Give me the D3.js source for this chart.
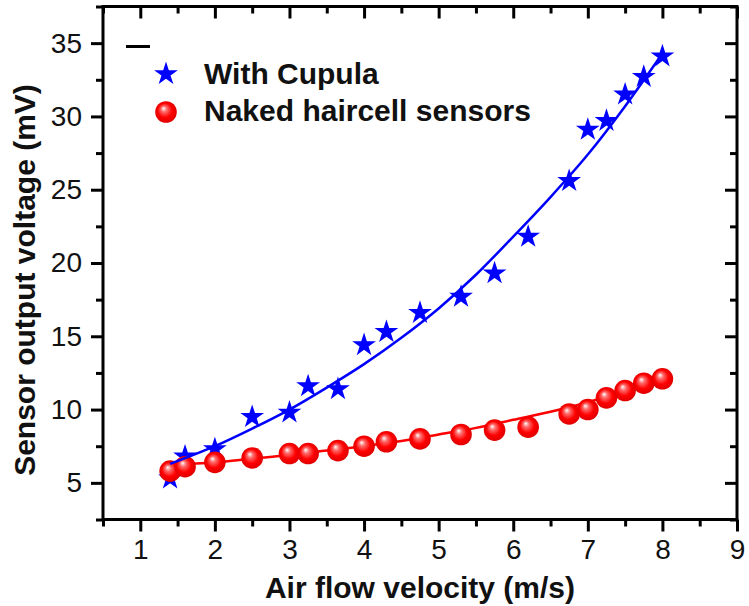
<!DOCTYPE html>
<html><head><meta charset="utf-8">
<script src="https://cdn.jsdelivr.net/npm/d3@7"></script>
<style>body{margin:0;background:#fff;} svg{display:block;}</style>
</head><body><svg id="c" width="749" height="606"></svg>
<script>
// Data
const velocity = [1.4,1.6,2.0,2.5,3.0,3.25,3.65,4.0,4.3,4.75,5.3,5.75,6.2,6.75,7.0,7.25,7.5,7.75,8.0];
const cupula   = [5.3,6.8,7.3,9.5,9.8,11.6,11.4,14.4,15.3,16.6,17.7,19.3,21.8,25.6,29.1,29.7,31.5,32.7,34.1];
const naked    = [5.8,6.1,6.4,6.7,7.0,7.0,7.2,7.5,7.8,8.0,8.3,8.6,8.8,9.7,10.0,10.8,11.3,11.8,12.1];
// Fitted curves
const fitX      = [1.4,2,2.5,3,3.5,4,4.5,5,5.5,6,6.5,7,7.5,8];
const cupulaFit = [6.3,7.5,8.7,10.0,11.5,13.1,14.9,16.9,19.2,21.8,24.5,27.4,30.7,34.3];
const nakedFit  = [6.2,6.4,6.65,6.9,7.2,7.5,7.85,8.3,8.75,9.3,9.85,10.5,11.3,12.2];
const xTicks = [1,2,3,4,5,6,7,8,9];
const xMinor = [0.5,1.5,2.5,3.5,4.5,5.5,6.5,7.5,8.5];
const yTicks = [5,10,15,20,25,30,35];
const yMinor = [2.5,7.5,12.5,17.5,22.5,27.5,32.5,37.5];
const seriesNames = ["With Cupula","Naked haircell sensors"];
const xTitle = "Air flow velocity (m/s)";
const yTitle = "Sensor output voltage (mV)";

const W = 749, H = 606;
const L = 103, R = 737, T = 6.5, B = 519.5;
const FONT = "'Liberation Sans', Arial, Helvetica, sans-serif";
const svg = d3.select("#c");
svg.append("rect").attr("width",W).attr("height",H).attr("fill","#fff");

const x = d3.scaleLinear().domain([0.5,9]).range([L,R]);
const y = d3.scaleLinear().domain([2.5,37.5]).range([B,T]);

const defs = svg.append("defs");
const grad = defs.append("radialGradient").attr("id","ball")
  .attr("cx","50%").attr("cy","50%").attr("r","55%")
  .attr("fx","38%").attr("fy","32%");
grad.append("stop").attr("offset","0%").attr("stop-color","#ffffff");
grad.append("stop").attr("offset","25%").attr("stop-color","#ff6a6a");
grad.append("stop").attr("offset","60%").attr("stop-color","#ff0000");
grad.append("stop").attr("offset","100%").attr("stop-color","#d80000");

// axes
function styleAxis(g){
  g.selectAll(".domain").remove();
  g.selectAll(".tick line").attr("stroke","#000").attr("stroke-width",3);
  g.selectAll("text").attr("font-family",FONT).attr("font-size",28).attr("fill","#111");
}
const gx = svg.append("g").attr("transform",`translate(0,${B})`)
  .call(d3.axisBottom(x).tickValues(xTicks).tickSize(12).tickPadding(8).tickFormat(d3.format("d")));
styleAxis(gx);
const gxm = svg.append("g").attr("transform",`translate(0,${B})`)
  .call(d3.axisBottom(x).tickValues(xMinor).tickSize(7).tickFormat(""));
styleAxis(gxm);
const gy = svg.append("g").attr("transform",`translate(${L},0)`)
  .call(d3.axisLeft(y).tickValues(yTicks).tickSize(12).tickPadding(9).tickFormat(d3.format("d")));
styleAxis(gy);
const gym = svg.append("g").attr("transform",`translate(${L},0)`)
  .call(d3.axisLeft(y).tickValues(yMinor).tickSize(7).tickFormat(""));
styleAxis(gym);
// top and right (inward)
const gt = svg.append("g").attr("transform",`translate(0,${T})`)
  .call(d3.axisBottom(x).tickValues(xTicks).tickSize(12).tickFormat(""));
styleAxis(gt);
const gtm = svg.append("g").attr("transform",`translate(0,${T})`)
  .call(d3.axisBottom(x).tickValues(xMinor).tickSize(7).tickFormat(""));
styleAxis(gtm);
const gr = svg.append("g").attr("transform",`translate(${R},0)`)
  .call(d3.axisLeft(y).tickValues(yTicks).tickSize(12).tickFormat(""));
styleAxis(gr);
const grm = svg.append("g").attr("transform",`translate(${R},0)`)
  .call(d3.axisLeft(y).tickValues(yMinor).tickSize(7).tickFormat(""));
styleAxis(grm);

svg.append("rect").attr("x",L).attr("y",T).attr("width",R-L).attr("height",B-T)
  .attr("fill","none").attr("stroke","#000").attr("stroke-width",3);

// titles
svg.append("text").attr("x",(L+R)/2).attr("y",598).attr("text-anchor","middle")
  .attr("font-family",FONT).attr("font-weight","bold").attr("font-size",30).attr("fill","#111").text(xTitle);
svg.append("text").attr("transform",`translate(35,280) rotate(-90)`).attr("text-anchor","middle")
  .attr("font-family",FONT).attr("font-weight","bold").attr("font-size",30).attr("fill","#111").text(yTitle);

const line = d3.line().curve(d3.curveMonotoneX);
const plot = svg.append("g");
plot.append("path").attr("d", line(fitX.map((v,i)=>[x(v),y(nakedFit[i])])))
  .attr("fill","none").attr("stroke","#ff0000").attr("stroke-width",2.5);

const star = d3.symbol().type(d3.symbolStar).size(175);
plot.selectAll(".star").data(velocity).join("path").attr("class","star")
  .attr("d",star).attr("fill","#0000ff")
  .attr("transform",(d,i)=>`translate(${x(d)},${y(cupula[i])})`);
plot.selectAll(".ball").data(velocity).join("circle").attr("class","ball")
  .attr("cx",d=>x(d)).attr("cy",(d,i)=>y(naked[i])).attr("r",10.8).attr("fill","url(#ball)");
plot.append("path").attr("d", line(fitX.map((v,i)=>[x(v),y(cupulaFit[i])])))
  .attr("fill","none").attr("stroke","#0000ff").attr("stroke-width",2.5);

// legend
const lg = svg.append("g");
lg.append("line").attr("x1",126).attr("x2",150).attr("y1",46.5).attr("y2",46.5).attr("stroke","#000").attr("stroke-width",3);
lg.append("path").attr("d",star).attr("fill","#0000ff").attr("transform","translate(166,74)");
lg.append("circle").attr("cx",166).attr("cy",112).attr("r",10.8).attr("fill","url(#ball)");
lg.selectAll(".lt").data(seriesNames).join("text").attr("class","lt")
  .attr("x",204).attr("y",(d,i)=>84+i*37)
  .attr("font-family",FONT).attr("font-weight","bold").attr("font-size",30).attr("fill","#111").text(d=>d);
</script></body></html>
